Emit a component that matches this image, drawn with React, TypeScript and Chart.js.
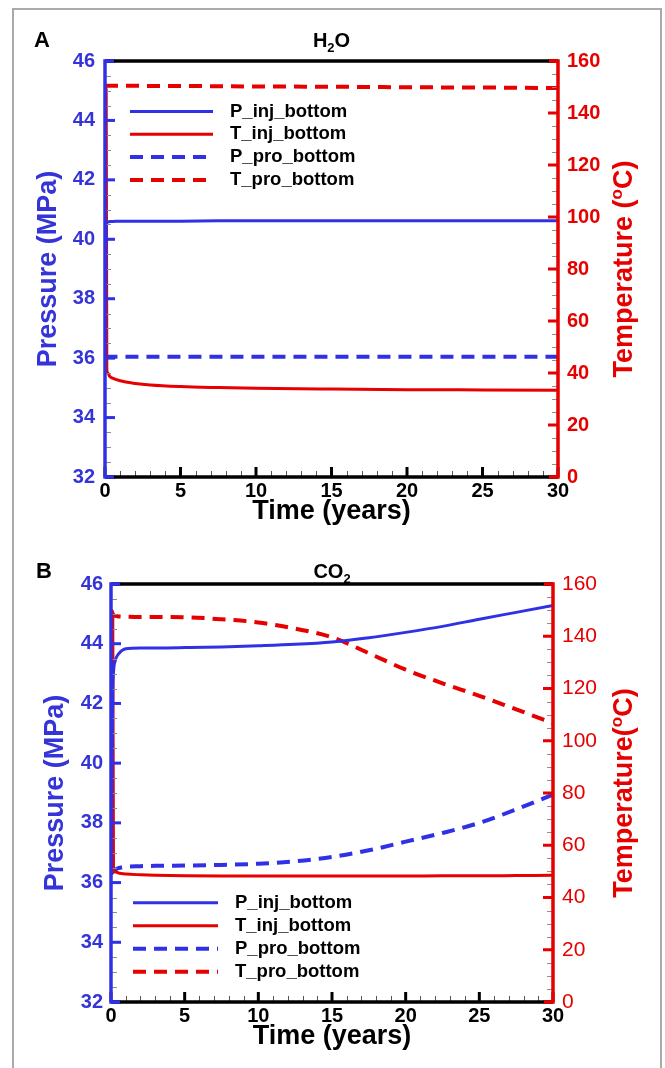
import React, { useEffect, useRef } from "react";
import { Chart, registerables } from "chart.js";

Chart.register(...registerables);

const FONT = "'Liberation Sans', Arial, Helvetica, sans-serif";
const BLUE = "#3030e6";
const BLUE_TEXT = "#3434d8";
const RED = "#e60000";

const seriesLabels = ["P_inj_bottom", "T_inj_bottom", "P_pro_bottom", "T_pro_bottom"];
const pressureTicks = [32, 34, 36, 38, 40, 42, 44, 46];
const temperatureTicks = [0, 20, 40, 60, 80, 100, 120, 140, 160];
const timeTicks = [0, 5, 10, 15, 20, 25, 30];
const pressureMinorStep = 0.5;
const temperatureMinorStep = 5;
const timeMinorStep = 1;

// Panel A: H2O
const timeA = [0, 0.08, 0.12, 0.2, 0.3, 0.5, 1, 2, 3, 5, 7.5, 10, 15, 20, 25, 30];
const pInjA = [36.0, 40.5, 40.56, 40.58, 40.6, 40.6, 40.61, 40.61, 40.61, 40.61, 40.62, 40.62, 40.62, 40.62, 40.62, 40.62];
const tInjA = [150, 149, 41.5, 40.0, 38.8, 38.0, 37.0, 36.0, 35.4, 34.8, 34.4, 34.1, 33.8, 33.6, 33.5, 33.4];
const pProA = [36.0, 36.04, 36.05, 36.05, 36.05, 36.05, 36.05, 36.05, 36.05, 36.05, 36.05, 36.05, 36.05, 36.05, 36.05, 36.05];
const tProA = [150.5, 150.5, 150.5, 150.5, 150.5, 150.5, 150.5, 150.5, 150.4, 150.4, 150.3, 150.2, 150.1, 149.9, 149.8, 149.6];

// Panel B: CO2
const timeB = [0, 0.12, 0.17, 0.3, 0.5, 1, 2, 3, 5, 7.5, 10, 12.5, 15, 17.5, 20, 22.5, 25, 27.5, 30];
const pInjB = [36.3, 42.4, 43.05, 43.45, 43.65, 43.83, 43.86, 43.86, 43.87, 43.89, 43.93, 43.98, 44.06, 44.2, 44.38, 44.58, 44.82, 45.05, 45.28];
const tInjB = [150, 149, 50.5, 49.8, 49.4, 49.0, 48.7, 48.5, 48.3, 48.2, 48.2, 48.2, 48.2, 48.2, 48.2, 48.3, 48.3, 48.4, 48.5];
const pProB = [36.3, 36.35, 36.38, 36.43, 36.48, 36.53, 36.55, 36.56, 36.57, 36.59, 36.63, 36.71, 36.86, 37.08, 37.37, 37.66, 38.0, 38.45, 38.95];
const tProB = [150, 148.5, 148.0, 147.8, 147.6, 147.5, 147.4, 147.4, 147.3, 146.5, 145.3, 142.9, 139.6, 133.5, 127.2, 122.0, 117.2, 112.0, 106.8];

type Part = { t: string; size: number; weight: string; dy: number };

function drawRich(ctx: CanvasRenderingContext2D, parts: Part[], x: number, y: number, center: boolean) {
  ctx.textAlign = "left";
  ctx.textBaseline = "alphabetic";
  const widths = parts.map((p) => {
    ctx.font = `${p.weight} ${p.size}px ${FONT}`;
    return ctx.measureText(p.t).width;
  });
  const total = widths.reduce((a, b) => a + b, 0);
  let cx = center ? x - total / 2 : x;
  parts.forEach((p, i) => {
    ctx.font = `${p.weight} ${p.size}px ${FONT}`;
    ctx.fillText(p.t, cx, y + p.dy);
    cx += widths[i];
  });
}

function line(ctx: CanvasRenderingContext2D, x1: number, y1: number, x2: number, y2: number) {
  ctx.beginPath();
  ctx.moveTo(x1, y1);
  ctx.lineTo(x2, y2);
  ctx.stroke();
}

const decoPlugin = {
  id: "deco",
  afterDatasetsDraw(chart: any, _args: any, opts: any) {
    const ctx: CanvasRenderingContext2D = chart.ctx;
    const { left, right, top, bottom } = chart.chartArea;
    const xs = chart.scales.x;
    const yp = chart.scales.yP;
    const yt = chart.scales.yT;
    ctx.save();
    ctx.lineCap = "butt";

    // legend
    const lg = opts.legend;
    chart.data.datasets.forEach((d: any, i: number) => {
      const y = lg.y + i * lg.step;
      ctx.setLineDash(d.borderDash || []);
      ctx.strokeStyle = d.borderColor;
      ctx.lineWidth = d.borderWidth;
      line(ctx, lg.x0, y, lg.x1, y);
      ctx.setLineDash([]);
      ctx.fillStyle = "#000";
      ctx.font = `bold 18.5px ${FONT}`;
      ctx.textAlign = "left";
      ctx.textBaseline = "middle";
      ctx.fillText(d.label, lg.tx, y);
    });

    // minor ticks
    ctx.lineWidth = 1;
    ctx.strokeStyle = "#8a8a9a";
    for (let v = yp.min; v <= yp.max + 1e-9; v += pressureMinorStep) {
      if (pressureTicks.includes(Math.round(v * 100) / 100)) continue;
      const py = Math.round(yp.getPixelForValue(v)) + 0.5;
      line(ctx, left, py, left + 6, py);
    }
    ctx.strokeStyle = "#9a8a8a";
    for (let v = yt.min; v <= yt.max + 1e-9; v += temperatureMinorStep) {
      if (temperatureTicks.includes(v)) continue;
      const py = Math.round(yt.getPixelForValue(v)) + 0.5;
      line(ctx, right - 6, py, right, py);
    }
    ctx.strokeStyle = "#555";
    for (let v = xs.min; v <= xs.max + 1e-9; v += timeMinorStep) {
      if (timeTicks.includes(v)) continue;
      const px = Math.round(xs.getPixelForValue(v)) + 0.5;
      line(ctx, px, bottom, px, bottom - 6);
    }

    // major ticks
    ctx.lineWidth = 3;
    ctx.strokeStyle = BLUE;
    pressureTicks.forEach((v) => {
      const py = yp.getPixelForValue(v);
      line(ctx, left, py, left + 10, py);
    });
    ctx.strokeStyle = RED;
    temperatureTicks.forEach((v) => {
      const py = yt.getPixelForValue(v);
      line(ctx, right - 10, py, right, py);
    });
    ctx.strokeStyle = "#000";
    timeTicks.forEach((v) => {
      const px = xs.getPixelForValue(v);
      line(ctx, px, bottom, px, bottom - 10);
    });

    // frame
    ctx.lineWidth = 3.5;
    ctx.strokeStyle = "#000";
    line(ctx, left, top, right, top);
    line(ctx, left, bottom, right, bottom);
    ctx.strokeStyle = BLUE;
    line(ctx, left, top - 1.75, left, bottom + 1.75);
    line(ctx, left, top, left + 9, top);
    line(ctx, left, bottom, left + 9, bottom);
    ctx.strokeStyle = RED;
    line(ctx, right, top - 1.75, right, bottom + 1.75);
    line(ctx, right - 9, top, right, top);
    line(ctx, right - 9, bottom, right, bottom);

    // panel letter and title
    ctx.fillStyle = "#000";
    drawRich(ctx, [{ t: opts.letter, size: 22, weight: "bold", dy: 0 }], opts.letterX, opts.titleBaseline, false);
    drawRich(
      ctx,
      [
        { t: opts.titleMain, size: 20, weight: "bold", dy: 0 },
        { t: "2", size: 13, weight: "bold", dy: 5 },
        { t: opts.titleTail, size: 20, weight: "bold", dy: 0 },
      ],
      (left + right) / 2,
      opts.titleBaseline,
      true
    );

    // right axis title (reads bottom to top)
    ctx.save();
    ctx.translate(opts.rightTitleX, (top + bottom) / 2);
    ctx.rotate(-Math.PI / 2);
    ctx.fillStyle = RED;
    drawRich(
      ctx,
      [
        { t: opts.rightTitleHead, size: 27, weight: "bold", dy: 0 },
        { t: "o", size: 17, weight: "bold", dy: -10 },
        { t: "C)", size: 27, weight: "bold", dy: 0 },
      ],
      0,
      8,
      true
    );
    ctx.restore();

    ctx.restore();
  },
};

type Spec = {
  times: number[];
  pInj: number[];
  tInj: number[];
  pPro: number[];
  tPro: number[];
  height: number;
  area: { left: number; right: number; top: number; bottom: number };
  leftTickPad: number;
  rightTickPad: number;
  rightTickFont: { size: number; weight: string };
  leftTitlePad: number;
  xTitlePad: number;
  deco: any;
};

const W = 665;

function makeDataset(label: string, times: number[], vals: number[], color: string, dashed: boolean, axis: string) {
  return {
    label,
    data: times.map((t, i) => ({ x: t, y: vals[i] })),
    borderColor: color,
    backgroundColor: color,
    borderWidth: dashed ? 4 : 3,
    borderDash: dashed ? [13, 8] : [],
    pointRadius: 0,
    cubicInterpolationMode: "monotone",
    fill: false,
    yAxisID: axis,
  };
}

function buildConfig(s: Spec): any {
  const { area } = s;
  return {
    type: "line",
    data: {
      datasets: [
        makeDataset(seriesLabels[0], s.times, s.pInj, BLUE, false, "yP"),
        makeDataset(seriesLabels[1], s.times, s.tInj, RED, false, "yT"),
        makeDataset(seriesLabels[2], s.times, s.pPro, BLUE, true, "yP"),
        makeDataset(seriesLabels[3], s.times, s.tPro, RED, true, "yT"),
      ],
    },
    options: {
      animation: false,
      responsive: false,
      maintainAspectRatio: false,
      devicePixelRatio: 1,
      events: [],
      layout: { padding: { left: 0, right: 0, top: area.top, bottom: 0 } },
      plugins: {
        legend: { display: false },
        tooltip: { enabled: false },
        title: { display: false },
        deco: s.deco,
      },
      scales: {
        x: {
          type: "linear",
          position: "bottom",
          min: 0,
          max: 30,
          afterBuildTicks: (sc: any) => {
            sc.ticks = timeTicks.map((v) => ({ value: v }));
          },
          afterFit: (sc: any) => {
            sc.height = s.height - area.bottom;
            sc.paddingLeft = 0;
            sc.paddingRight = 0;
          },
          grid: { display: false, drawTicks: false },
          border: { display: false },
          ticks: {
            autoSkip: false,
            maxRotation: 0,
            padding: 2,
            color: "#000",
            font: { family: FONT, size: 20, weight: "bold" },
          },
          title: {
            display: true,
            text: "Time (years)",
            color: "#000",
            font: { family: FONT, size: 27, weight: "bold" },
            padding: { top: 0, bottom: s.xTitlePad },
          },
        },
        yP: {
          type: "linear",
          position: "left",
          min: 32,
          max: 46,
          afterBuildTicks: (sc: any) => {
            sc.ticks = pressureTicks.map((v) => ({ value: v }));
          },
          afterFit: (sc: any) => {
            sc.width = area.left;
            sc.paddingTop = 0;
            sc.paddingBottom = 0;
          },
          grid: { display: false, drawTicks: false },
          border: { display: false },
          ticks: {
            padding: s.leftTickPad,
            color: BLUE_TEXT,
            font: { family: FONT, size: 20, weight: "bold" },
          },
          title: {
            display: true,
            text: "Pressure (MPa)",
            color: BLUE_TEXT,
            font: { family: FONT, size: 27, weight: "bold" },
            padding: { top: s.leftTitlePad, bottom: 0 },
          },
        },
        yT: {
          type: "linear",
          position: "right",
          min: 0,
          max: 160,
          afterBuildTicks: (sc: any) => {
            sc.ticks = temperatureTicks.map((v) => ({ value: v }));
          },
          afterFit: (sc: any) => {
            sc.width = W - area.right;
            sc.paddingTop = 0;
            sc.paddingBottom = 0;
          },
          grid: { display: false, drawTicks: false },
          border: { display: false },
          ticks: {
            padding: s.rightTickPad,
            color: RED,
            font: { family: FONT, size: s.rightTickFont.size, weight: s.rightTickFont.weight },
          },
          title: { display: false },
        },
      },
    },
    plugins: [decoPlugin],
  };
}

const specA: Spec = {
  times: timeA,
  pInj: pInjA,
  tInj: tInjA,
  pPro: pProA,
  tPro: tProA,
  height: 540,
  area: { left: 105, right: 558, top: 61, bottom: 477 },
  leftTickPad: 10,
  rightTickPad: 9,
  rightTickFont: { size: 20, weight: "bold" },
  leftTitlePad: 32.5,
  xTitlePad: 12,
  deco: {
    legend: { x0: 130, x1: 213, tx: 230, y: 111.5, step: 22.8 },
    letter: "A",
    letterX: 34,
    titleBaseline: 47,
    titleMain: "H",
    titleTail: "O",
    rightTitleHead: "Temperature (",
    rightTitleX: 623.5,
  },
};

const specB: Spec = {
  times: timeB,
  pInj: pInjB,
  tInj: tInjB,
  pPro: pProB,
  tPro: tProB,
  height: 528,
  area: { left: 111, right: 553, top: 44, bottom: 462 },
  leftTickPad: 8,
  rightTickPad: 9,
  rightTickFont: { size: 21, weight: "normal" },
  leftTitlePad: 39,
  xTitlePad: 15,
  deco: {
    legend: { x0: 133, x1: 218, tx: 235, y: 362.7, step: 23 },
    letter: "B",
    letterX: 36,
    titleBaseline: 38,
    titleMain: "CO",
    titleTail: "",
    rightTitleHead: "Temperature(",
    rightTitleX: 623.5,
  },
};

function Panel({ spec, top }: { spec: Spec; top: number }) {
  const ref = useRef<HTMLCanvasElement | null>(null);
  useEffect(() => {
    if (!ref.current) return;
    const chart = new Chart(ref.current, buildConfig(spec));
    return () => chart.destroy();
  }, [spec]);
  return (
    <canvas
      ref={ref}
      width={W}
      height={spec.height}
      style={{ position: "absolute", left: 0, top, width: W, height: spec.height }}
    />
  );
}

export default function App() {
  return (
    <div
      style={{
        position: "absolute",
        left: 0,
        top: 0,
        width: W,
        height: 1068,
        background: "#fff",
        overflow: "hidden",
      }}
    >
      <div
        style={{
          position: "absolute",
          left: 12,
          top: 8,
          width: 650,
          height: 1100,
          boxSizing: "border-box",
          border: "2px solid #aaaaaa",
        }}
      />
      <Panel spec={specA} top={0} />
      <Panel spec={specB} top={540} />
    </div>
  );
}
